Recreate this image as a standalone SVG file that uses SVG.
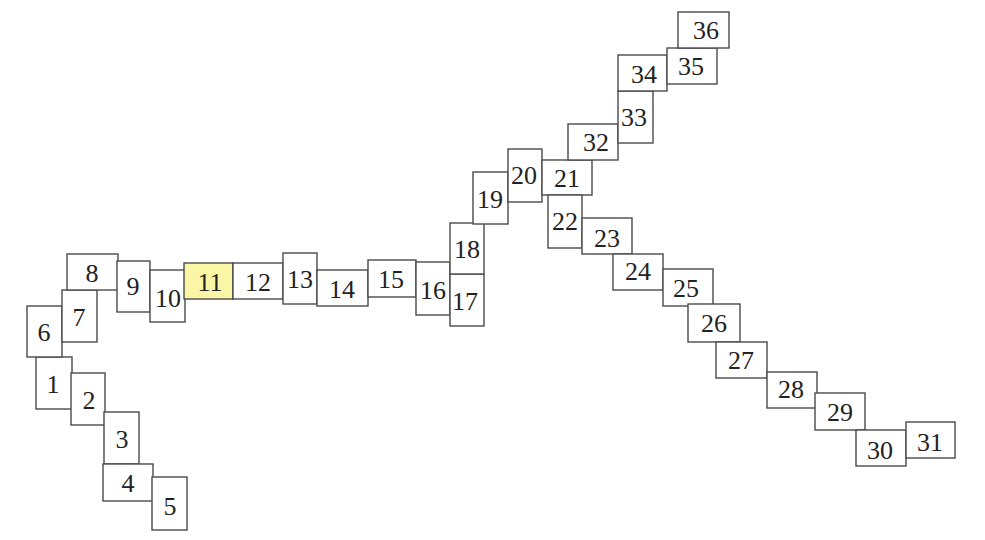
<svg xmlns="http://www.w3.org/2000/svg" width="985" height="540" viewBox="0 0 985 540">
<style>
rect{fill:#ffffff;stroke:#4a4a4a;stroke-width:1.4}
rect.hl{fill:#fbf6a6}
text{font-family:"Liberation Serif","Times New Roman",Times,serif;font-size:26px;fill:#222;text-anchor:middle}
</style>
<rect x="0" y="0" width="985" height="540" style="stroke:none"/>
<g id="n1"><rect x="36" y="357" width="36" height="52"/><text x="53" y="393">1</text></g>
<g id="n2"><rect x="71" y="373" width="34" height="52"/><text x="89" y="409">2</text></g>
<g id="n3"><rect x="104" y="412" width="35" height="52"/><text x="122" y="448">3</text></g>
<g id="n4"><rect x="103" y="464" width="50" height="37"/><text x="128" y="492">4</text></g>
<g id="n5"><rect x="152" y="477" width="35" height="53"/><text x="170" y="515">5</text></g>
<g id="n6"><rect x="27" y="306" width="35" height="51"/><text x="44" y="341">6</text></g>
<g id="n7"><rect x="62" y="290" width="35" height="52"/><text x="79" y="326">7</text></g>
<g id="n8"><rect x="67" y="254" width="51" height="36"/><text x="92" y="282">8</text></g>
<g id="n9"><rect x="117" y="261" width="33" height="51"/><text x="133" y="295">9</text></g>
<g id="n10"><rect x="150" y="270" width="35" height="52"/><text x="168" y="307">10</text></g>
<g id="n11"><rect class="hl" x="184" y="263" width="49" height="36"/><text x="210" y="291">11</text></g>
<g id="n12"><rect x="233" y="263" width="50" height="36"/><text x="258" y="291">12</text></g>
<g id="n13"><rect x="283" y="253" width="34" height="51"/><text x="300" y="288">13</text></g>
<g id="n14"><rect x="317" y="270" width="51" height="36"/><text x="342" y="298">14</text></g>
<g id="n15"><rect x="368" y="260" width="48" height="37"/><text x="391" y="288">15</text></g>
<g id="n16"><rect x="416" y="262" width="34" height="53"/><text x="433" y="299">16</text></g>
<g id="n17"><rect x="450" y="274" width="34" height="52"/><text x="465" y="310">17</text></g>
<g id="n18"><rect x="450" y="223" width="34" height="51"/><text x="467" y="258">18</text></g>
<g id="n19"><rect x="473" y="172" width="35" height="52"/><text x="490" y="208">19</text></g>
<g id="n20"><rect x="508" y="149" width="34" height="53"/><text x="524" y="184">20</text></g>
<g id="n21"><rect x="542" y="160" width="50" height="35"/><text x="567" y="187">21</text></g>
<g id="n22"><rect x="548" y="195" width="34" height="53"/><text x="565" y="230">22</text></g>
<g id="n23"><rect x="582" y="218" width="50" height="36"/><text x="607" y="247">23</text></g>
<g id="n24"><rect x="613" y="254" width="50" height="36"/><text x="638" y="280">24</text></g>
<g id="n25"><rect x="663" y="269" width="50" height="37"/><text x="686" y="297">25</text></g>
<g id="n26"><rect x="688" y="304" width="52" height="38"/><text x="714" y="332">26</text></g>
<g id="n27"><rect x="716" y="342" width="51" height="36"/><text x="741" y="369">27</text></g>
<g id="n28"><rect x="767" y="372" width="50" height="36"/><text x="791" y="398">28</text></g>
<g id="n29"><rect x="815" y="393" width="50" height="37"/><text x="840" y="421">29</text></g>
<g id="n30"><rect x="856" y="430" width="50" height="36"/><text x="880" y="459">30</text></g>
<g id="n31"><rect x="906" y="422" width="49" height="36"/><text x="930" y="451">31</text></g>
<g id="n32"><rect x="568" y="124" width="50" height="36"/><text x="596" y="151">32</text></g>
<g id="n33"><rect x="618" y="91" width="35" height="52"/><text x="634" y="126">33</text></g>
<g id="n34"><rect x="618" y="55" width="49" height="36"/><text x="644" y="83">34</text></g>
<g id="n35"><rect x="667" y="48" width="50" height="36"/><text x="691" y="75">35</text></g>
<g id="n36"><rect x="678" y="12" width="51" height="36"/><text x="706" y="39">36</text></g>
<g id="connectors"></g>
</svg>
